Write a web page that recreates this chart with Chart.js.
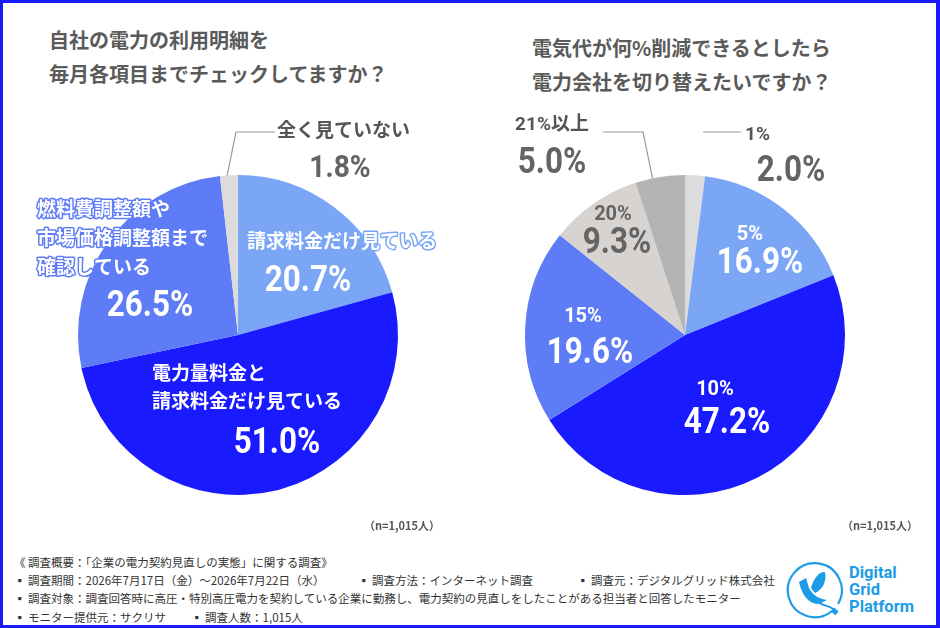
<!DOCTYPE html>
<html lang="ja">
<head>
<meta charset="utf-8">
<title>電力契約アンケート</title>
<script src="https://cdn.jsdelivr.net/npm/chart.js@4.4.1/dist/chart.umd.min.js"></script>
<style>
  html, body { margin: 0; padding: 0; background: #fff; }
  #page { position: relative; width: 940px; height: 628px; overflow: hidden; background: #fff;
          font-family: "Noto Sans CJK JP", sans-serif; }
  #frame { position: absolute; left: 0; top: 0; width: 940px; height: 628px; box-sizing: border-box;
           border: 3px solid #1a1aff; border-right-width: 4px; pointer-events: none; }
  .title { position: absolute; font-size: 20px; font-weight: bold; color: #5a5a5a; line-height: 34px; white-space: nowrap; }
  .wrap { position: absolute; top: 100px; width: 470px; height: 440px; }
  .n { position: absolute; top: 516px; font-size: 11px; font-weight: bold; color: #555; line-height: 18px; }
  .foot { position: absolute; font-size: 11.5px; color: #333; line-height: 18px; white-space: nowrap; }
  #logo { position: absolute; left: 784px; top: 561px; }
  #logoText { position: absolute; left: 849px; top: 564px; font-family: Roboto, sans-serif; font-weight: bold;
              font-size: 16.5px; line-height: 17px; color: #1e9be6; }
</style>
</head>
<body>
<div id="page">
  <div class="title" style="left:49px; top:23px;">自社の電力の利用明細を<br>毎月各項目までチェックしてますか？</div>
  <div class="title" style="left:532px; top:31px;">電気代が何%削減できるとしたら<br>電力会社を切り替えたいですか？</div>

  <div class="wrap" style="left:0px;"><canvas id="leftChart"></canvas></div>
  <div class="wrap" style="left:470px;"><canvas id="rightChart"></canvas></div>

  <div class="n" style="left:364px;">（n=1,015人）</div>
  <div class="n" style="left:842px;">（n=1,015人）</div>

  <div class="foot" style="left:14px; top:553px;">《 調査概要：「企業の電力契約見直しの実態」に関する調査》</div>
  <div class="foot" style="left:14px; top:571px;">▪ 調査期間：2026年7月17日（金）～2026年7月22日（水）</div>
  <div class="foot" style="left:358px; top:571px;">▪ 調査方法：インターネット調査</div>
  <div class="foot" style="left:577px; top:571px;">▪ 調査元：デジタルグリッド株式会社</div>
  <div class="foot" style="left:14px; top:589px;">▪ 調査対象：調査回答時に高圧・特別高圧電力を契約している企業に勤務し、電力契約の見直しをしたことがある担当者と回答したモニター</div>
  <div class="foot" style="left:14px; top:608px;">▪ モニター提供元：サクリサ</div>
  <div class="foot" style="left:191px; top:608px;">▪ 調査人数：1,015人</div>

  <svg id="logo" width="60" height="60" viewBox="-30 -30 60 60">
    <path d="M 18 20 A 27 27 0 1 1 24 13" fill="none" stroke="#1e9be6" stroke-width="2.2"/>
    <path d="M -15 -9 L -8 -13 L -5 -3 C -1 5, 6 8, 13 9 L 5 13 C -5 13, -12 5, -15 -9 Z" fill="#1e9be6"/>
    <path d="M -3 -3 C 0 -15, 7 -20, 11 -19 C 13 -9, 8 -1, 1 2 Z" fill="#1e9be6"/>
    <path d="M 4 11 C 10 16, 16 14, 20 19" fill="none" stroke="#1e9be6" stroke-width="1.8"/>
    <rect x="18" y="18" width="6" height="5" fill="#1e9be6" transform="rotate(40 21 20)"/>
  </svg>
  <div id="logoText">Digital<br>Grid<br>Platform</div>

  <div id="frame"></div>
</div>

<script>
// left: 自社の電力の利用明細を毎月各項目までチェックしてますか？
const leftCategories = [
  ['請求料金だけ見ている'],
  ['電力量料金と', '請求料金だけ見ている'],
  ['燃料費調整額や', '市場価格調整額まで', '確認している'],
  ['全く見ていない']
];
const leftValues = [20.7, 51.0, 26.5, 1.8];
const leftColors = ['#7ba6f6', '#1a1aff', '#5e7cf6', '#dcdcdc'];

// right: 電気代が何%削減できるとしたら電力会社を切り替えたいですか？
const rightCategories = ['1%', '5%', '10%', '15%', '20%', '21%以上'];
const rightValues = [2.0, 16.9, 47.2, 19.6, 9.3, 5.0];
const rightColors = ['#dcdcdc', '#7ba6f6', '#1a1aff', '#5e7cf6', '#d6d3d1', '#b4b4b4'];

// label placement, offsets from the pie centre for a 160px radius
const leftLayout = [
  { cat: { dx: 9, dy: -92, align: 'left', size: 19, color: '#fff', stroke: '#7ba6f6' },
    val: { dx: 70, dy: -57, size: 37, color: '#fff', sx: 0.85 } },
  { cat: { dx: -86, dy: 40, align: 'left', size: 19, color: '#fff', lh: 28 },
    val: { dx: 39, dy: 105, size: 37, color: '#fff', sx: 0.85 } },
  { cat: { dx: -201, dy: -124, align: 'left', size: 19, color: '#fff', stroke: '#5e7cf6', lh: 29 },
    val: { dx: -88, dy: -32, size: 37, color: '#fff', sx: 0.85 } },
  { cat: { dx: 39, dy: -203, align: 'left', size: 19, color: '#555' },
    val: { dx: 102, dy: -169, size: 32, color: '#646464', sx: 0.88 },
    leader: [[-2, -203], [37, -203]], at: 0.4 }
];
const rightLayout = [
  { cat: { dx: 60, dy: -202, align: 'left', size: 19, color: '#555' },
    val: { dx: 106, dy: -167, size: 37, color: '#646464', sx: 0.85 },
    leader: [[18, -203], [56, -203]] },
  { cat: { dx: 65, dy: -102, size: 20, color: '#fff' },
    val: { dx: 75, dy: -75, size: 37, color: '#fff', sx: 0.85 } },
  { cat: { dx: 30, dy: 53, size: 20, color: '#fff' },
    val: { dx: 42, dy: 85, size: 37, color: '#fff', sx: 0.85 } },
  { cat: { dx: -102, dy: -20, size: 20, color: '#fff' },
    val: { dx: -95, dy: 15, size: 37, color: '#fff', sx: 0.85 } },
  { cat: { dx: -72, dy: -122, size: 20, color: '#646464' },
    val: { dx: -68, dy: -95, size: 37, color: '#646464', sx: 0.85 } },
  { cat: { dx: -133, dy: -210, size: 19, color: '#555' },
    val: { dx: -133, dy: -175, size: 37, color: '#646464', sx: 0.85 },
    leader: [[-42, -203], [-82, -203]], at: 0.35 }
];

function drawText(ctx, text, x, y, s, numeric) {
  ctx.save();
  ctx.translate(x, y);
  ctx.scale(s.sx || 1, 1);
  ctx.font = 'bold ' + s.size + 'px Roboto, "Noto Sans CJK JP", sans-serif';
  ctx.textAlign = s.align || 'center';
  ctx.textBaseline = numeric ? 'alphabetic' : 'middle';
  const ty = numeric ? s.size * 0.355 : 0;
  if (s.stroke) {
    ctx.lineJoin = 'round';
    ctx.lineWidth = 3;
    ctx.strokeStyle = s.stroke;
    ctx.strokeText(text, 0, ty);
  }
  ctx.fillStyle = s.color;
  ctx.fillText(text, 0, ty);
  ctx.restore();
}

const sliceLabels = {
  id: 'sliceLabels',
  afterDatasetsDraw(chart, args, opts) {
    const ctx = chart.ctx;
    const meta = chart.getDatasetMeta(0);
    const values = chart.data.datasets[0].data;
    meta.data.forEach((arc, i) => {
      const p = arc.getProps(['x', 'y', 'outerRadius', 'startAngle', 'endAngle'], true);
      const k = p.outerRadius / 160;
      const L = opts.layout[i];
      if (L.leader) {
        const a = p.startAngle + (p.endAngle - p.startAngle) * (L.at || 0.5);
        ctx.save();
        ctx.beginPath();
        ctx.moveTo(p.x + Math.cos(a) * p.outerRadius, p.y + Math.sin(a) * p.outerRadius);
        L.leader.forEach(q => ctx.lineTo(p.x + q[0] * k, p.y + q[1] * k));
        ctx.strokeStyle = '#999';
        ctx.lineWidth = 1.2;
        ctx.stroke();
        ctx.restore();
      }
      const lines = [].concat(chart.data.labels[i]);
      const lh = L.cat.lh || 28;
      const numericCat = /^[0-9%]+$/.test(lines[0]);
      lines.forEach((t, j) => drawText(ctx, t, p.x + L.cat.dx * k, p.y + (L.cat.dy + j * lh) * k, L.cat, numericCat));
      drawText(ctx, values[i].toFixed(1) + '%', p.x + L.val.dx * k, p.y + L.val.dy * k, L.val, true);
    });
  }
};

function makePie(id, labels, values, colors, layout, padding) {
  return new Chart(document.getElementById(id), {
    type: 'pie',
    data: {
      labels: labels,
      datasets: [{
        data: values,
        backgroundColor: colors,
        borderWidth: 0,
        hoverOffset: 0
      }]
    },
    options: {
      animation: false,
      responsive: true,
      maintainAspectRatio: false,
      layout: { padding: padding },
      plugins: {
        legend: { display: false },
        tooltip: { enabled: false },
        sliceLabels: { layout: layout }
      }
    },
    plugins: [sliceLabels]
  });
}

makePie('leftChart', leftCategories, leftValues, leftColors, leftLayout,
  { left: 78, right: 72, top: 75, bottom: 45 });
makePie('rightChart', rightCategories, rightValues, rightColors, rightLayout,
  { left: 55, right: 95, top: 75, bottom: 45 });
</script>
</body>
</html>
